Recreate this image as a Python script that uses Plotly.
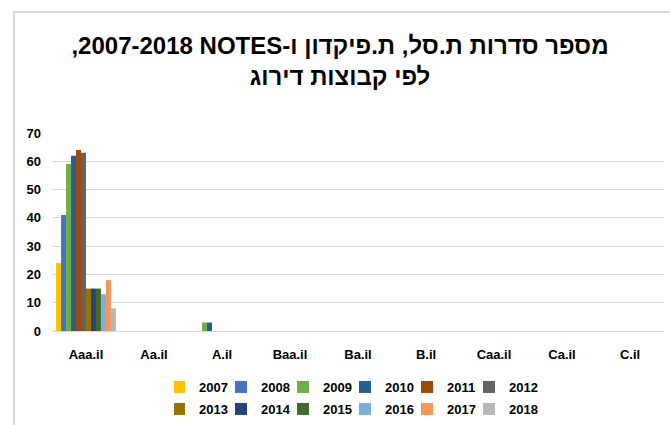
import plotly.graph_objects as go

categories = ["Aaa.il", "Aa.il", "A.il", "Baa.il", "Ba.il", "B.il", "Caa.il", "Ca.il", "C.il"]
years = ["2007", "2008", "2009", "2010", "2011", "2012", "2013", "2014", "2015", "2016", "2017", "2018"]
values = {
    "2007": [24, 0, 0, 0, 0, 0, 0, 0, 0],
    "2008": [41, 0, 0, 0, 0, 0, 0, 0, 0],
    "2009": [59, 0, 3, 0, 0, 0, 0, 0, 0],
    "2010": [62, 0, 3, 0, 0, 0, 0, 0, 0],
    "2011": [64, 0, 0, 0, 0, 0, 0, 0, 0],
    "2012": [63, 0, 0, 0, 0, 0, 0, 0, 0],
    "2013": [15, 0, 0, 0, 0, 0, 0, 0, 0],
    "2014": [15, 0, 0, 0, 0, 0, 0, 0, 0],
    "2015": [15, 0, 0, 0, 0, 0, 0, 0, 0],
    "2016": [13, 0, 0, 0, 0, 0, 0, 0, 0],
    "2017": [18, 0, 0, 0, 0, 0, 0, 0, 0],
    "2018": [8, 0, 0, 0, 0, 0, 0, 0, 0],
}
colors = ["#FFC000", "#4472C4", "#70AD47", "#255E91", "#9E480E", "#636363",
          "#997300", "#264478", "#43682B", "#7CAFDD", "#F1975A", "#B7B7B7"]
RLE, PDF, RLM = "\u202B", "\u202C", "\u200F"
title_line1 = "מספר סדרות ת.סל, ת.פיקדון ו-NOTES " + RLM + "2007-2018,"
title_line2 = "לפי קבוצות דירוג"
title_text = RLE + title_line1 + PDF + "<br>" + RLE + title_line2 + PDF

fig = go.Figure()
for i, (y, c) in enumerate(zip(years, colors)):
    fig.add_trace(go.Bar(x=categories, y=values[y], name=y, marker_color=c,
                         marker_line_width=0,
                         legend="legend" if i < 6 else "legend2"))

W, H = 670, 425
L, R, T, B = 52, 6, 133, 94
pw, ph = W - L - R, H - T - B

def px2x(px):
    return (px - L) / pw

def py2y(py):
    return (H - B - py) / ph

leg_common = dict(orientation="h", x=px2x(360), xanchor="center", yanchor="top",
                  entrywidth=32, entrywidthmode="pixels", font=dict(size=13, weight=700),
                  itemwidth=30, indentation=-15, tracegroupgap=0, traceorder="normal",
                  bgcolor="rgba(0,0,0,0)")

fig.update_layout(
    width=W, height=H,
    margin=dict(l=L, r=R, t=T, b=B, autoexpand=False),
    paper_bgcolor="white", plot_bgcolor="white",
    font=dict(family="Liberation Sans, DejaVu Sans, sans-serif", size=13, color="#000000", weight=700),
    title=dict(text=title_text, x=340 / W, xanchor="center", y=1 - 54 / H, yanchor="top",
               yref="container", font=dict(size=24, weight=700)),
    barmode="group", bargap=0.12, bargroupgap=0.0,
    xaxis=dict(showgrid=False, showline=False, ticks="", tickfont=dict(size=13, weight=700),
               ticklabelstandoff=14),
    yaxis=dict(range=[0, 70], dtick=10, showgrid=True, gridcolor="#D9D9D9", gridwidth=1,
               zeroline=True, zerolinecolor="#D9D9D9", zerolinewidth=1,
               ticks="", tickfont=dict(size=13, weight=700), ticklabelstandoff=10),
    legend=dict(y=py2y(372), **leg_common),
    legend2=dict(y=py2y(394), **leg_common),
    shapes=[dict(type="path", xref="paper", yref="paper",
                 path=f"M {px2x(14)} {py2y(430)} L {px2x(14)} {py2y(12)} L {px2x(680)} {py2y(12)}",
                 line=dict(color="#D9D9D9", width=2))],
)

fig.write_html("out.html", post_script="document.body.style.margin='0';",
               config={"displayModeBar": False})
